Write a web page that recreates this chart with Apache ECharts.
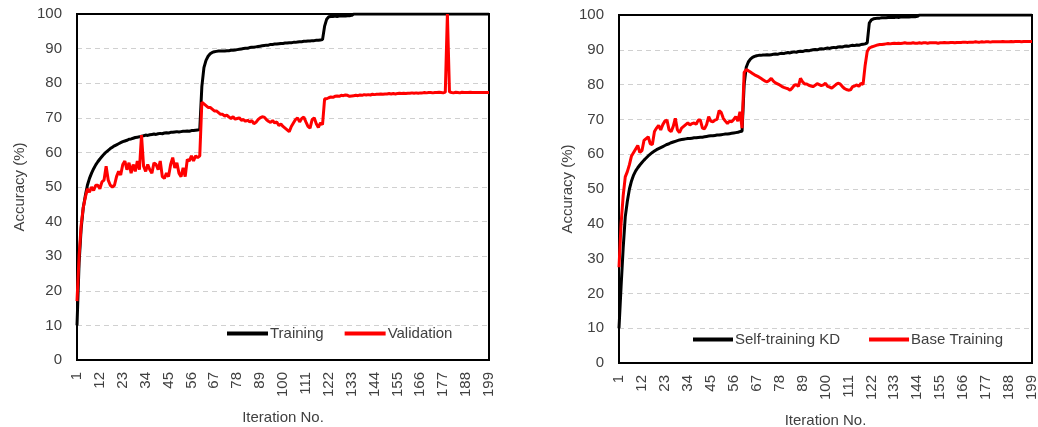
<!DOCTYPE html>
<html>
<head>
<meta charset="utf-8">
<script src="https://cdn.jsdelivr.net/npm/echarts@6/dist/echarts.min.js"></script>
<style>
  html, body { margin: 0; padding: 0; background: #fff; }
  #chart { width: 1038px; height: 427px; }
</style>
</head>
<body>
<div id="chart"></div>
<script>
// iteration numbers 1..199
const iterations = [];
for (let i = 1; i <= 199; i++) iterations.push(String(i));

// left panel: Training / Validation accuracy (%)
const leftTraining = [
  10, 28, 38, 44, 47.5, 50.5, 52.5, 54, 55.3, 56.4,
  57.3, 58.1, 58.8, 59.5, 60.1, 60.6, 61.1, 61.5, 61.9, 62.2,
  62.5, 62.8, 63.1, 63.3, 63.5, 63.8, 63.9, 64.1, 64.3, 64.4,
  64.5, 64.7, 64.8, 65.0, 64.9, 65.1, 65.2, 65.3, 65.2, 65.4,
  65.5, 65.4, 65.6, 65.7, 65.6, 65.8, 65.8, 65.9, 66.0, 65.9,
  66.0, 66.1, 66.1, 66.2, 66.1, 66.3, 66.3, 66.4, 66.5, 66.6,
  79, 84.5, 86.6, 87.8, 88.5, 88.9, 89.1, 89.2, 89.3, 89.3,
  89.3, 89.3, 89.4, 89.4, 89.5, 89.5, 89.6, 89.7, 89.8, 89.9,
  90.0, 90.1, 90.1, 90.3, 90.4, 90.4, 90.5, 90.6, 90.7, 90.8,
  90.9, 91.0, 91.0, 91.2, 91.2, 91.3, 91.3, 91.4, 91.5, 91.5,
  91.6, 91.6, 91.7, 91.7, 91.8, 91.8, 91.9, 92.0, 92.0, 92.1,
  92.1, 92.2, 92.2, 92.3, 92.3, 92.4, 92.4, 92.5, 92.6, 96.5,
  98.5, 99.2, 99.3, 99.3, 99.4, 99.3, 99.4, 99.4, 99.5, 99.4,
  99.5, 99.5, 99.6, 100, 100, 100, 100, 100, 100, 100,
  100, 100, 100, 100, 100, 100, 100, 100, 100, 100,
  100, 100, 100, 100, 100, 100, 100, 100, 100, 100,
  100, 100, 100, 100, 100, 100, 100, 100, 100, 100,
  100, 100, 100, 100, 100, 100, 100, 100, 100, 100,
  100, 100, 100, 100, 100, 100, 100, 100, 100, 100,
  100, 100, 100, 100, 100, 100, 100, 100, 100
];
const leftValidation = [
  17, 30, 39, 44, 47, 49.5, 48.5, 50, 49, 50.5,
  50.5, 49.5, 51.5, 52, 56, 52, 50.5, 50, 50.5, 53,
  54.5, 53.5, 56.5, 57.5, 55, 57, 54, 56.5, 54.5, 57.5,
  55, 65, 56, 54.5, 56.5, 55, 54, 57, 56.5, 55,
  57.5, 53, 52.5, 54, 53, 56.5, 58.5, 55.5, 57, 54,
  53, 55.5, 53, 58, 57.5, 59, 57.5, 59, 58.5, 59,
  74.5, 74, 73.5, 73, 73, 72.5, 72, 72, 71.5, 71,
  71, 70.5, 70.8, 70.2, 69.8, 70.3, 69.6, 69.8, 70, 69.3,
  69.5, 69, 69.3, 68.8, 69.2, 68.3, 68.7, 69.5, 70, 70.3,
  70.2, 69.5, 69, 68.7, 69.2, 68.5, 68.8, 67.8, 68.2, 67.5,
  67, 66.5, 66, 67.5, 68.5, 69.5, 70, 68.8, 69.8, 70.2,
  68.8, 67.5, 67, 69.5, 70, 68.3, 67.2, 68.5, 68, 75.5,
  75.5, 75.8, 76, 75.9, 76.2, 76.3, 76.2, 76.5, 76.4, 76.6,
  76.5, 76.2, 76.3, 76.4, 76.5, 76.4, 76.6, 76.5, 76.7, 76.6,
  76.7, 76.6, 76.8, 76.7, 76.8, 76.8, 76.9, 76.8, 76.9, 76.9,
  77.0, 76.9, 77.0, 76.9, 77.0, 77.1, 77.0, 77.1, 77.0, 77.1,
  77.1, 77.2, 77.1, 77.2, 77.1, 77.2, 77.2, 77.3, 77.2, 77.3,
  77.3, 77.2, 77.3, 77.3, 77.4, 77.3, 77.2, 77.4, 100, 77.5,
  77.3, 77.2, 77.4, 77.3, 77.2, 77.4, 77.3, 77.3, 77.3, 77.4,
  77.3, 77.3, 77.3, 77.3, 77.3, 77.3, 77.3, 77.3, 77.3
];

// right panel: Self-training KD / Base Training accuracy (%)
const rightKD = [
  10, 22, 33, 42, 46.5, 50, 52.3, 54, 55.2, 56.1,
  56.9, 57.6, 58.3, 58.9, 59.5, 60.0, 60.5, 60.9, 61.3, 61.6,
  61.9, 62.2, 62.5, 62.8, 63.0, 63.3, 63.5, 63.7, 63.9, 64.1,
  64.2, 64.3, 64.4, 64.5, 64.5, 64.6, 64.7, 64.7, 64.8, 64.9,
  64.9, 65.0, 65.1, 65.2, 65.3, 65.3, 65.4, 65.5, 65.5, 65.6,
  65.7, 65.8, 65.8, 65.9, 66.0, 66.1, 66.2, 66.3, 66.5, 66.6,
  80, 85, 86.5, 87.3, 87.8, 88.1, 88.3, 88.4, 88.4, 88.5,
  88.5, 88.6, 88.5, 88.6, 88.7, 88.8, 88.7, 88.9, 89.0, 88.9,
  89.1, 89.2, 89.1, 89.3, 89.4, 89.3, 89.5, 89.6, 89.5, 89.7,
  89.8, 89.7, 89.9, 90.0, 90.1, 90.0, 90.2, 90.3, 90.2, 90.4,
  90.5, 90.4, 90.6, 90.7, 90.6, 90.8, 90.9, 90.8, 91.0, 91.1,
  91.0, 91.2, 91.3, 91.2, 91.4, 91.3, 91.5, 91.6, 91.7, 92.0,
  97.7, 98.6, 98.9, 99.0, 99.1, 99.1, 99.2, 99.2, 99.2, 99.3,
  99.3, 99.3, 99.3, 99.4, 99.3, 99.4, 99.4, 99.4, 99.5, 99.4,
  99.5, 99.5, 99.5, 99.6, 100, 100, 100, 100, 100, 100,
  100, 100, 100, 100, 100, 100, 100, 100, 100, 100,
  100, 100, 100, 100, 100, 100, 100, 100, 100, 100,
  100, 100, 100, 100, 100, 100, 100, 100, 100, 100,
  100, 100, 100, 100, 100, 100, 100, 100, 100, 100,
  100, 100, 100, 100, 100, 100, 100, 100, 100
];
const rightBase = [
  27.5, 40, 48, 53.5, 55, 57, 59.5, 60.5, 61.5, 62.5,
  60.5, 61, 64, 64.5, 65, 63, 62.8, 66.5, 67.5, 68.3,
  67, 68.5, 69.5, 69.8, 67, 66.5, 68, 70.3, 67, 66.2,
  67.5, 68, 68.5, 69, 68.4, 68.8, 69, 68.6, 69.8, 69.8,
  67.5, 67.3, 68.5, 70.8, 69.5, 69.3, 69.8, 70, 72.5, 72,
  70.3, 69.5, 68.8, 69.5, 69.3, 70, 70.8, 69.5, 72.2, 67.5,
  83.5, 84.3, 84, 83.6, 83.2, 82.8, 82.5, 82.2, 81.8, 81.4,
  81, 80.8, 81.2, 81.8, 81, 80.5, 80.2, 79.9, 79.5, 79.2,
  79, 78.8, 78.4, 79, 79.8, 80, 79.5, 81.8, 80.8, 80.2,
  80.2, 79.8, 79.6, 79.4, 79.8, 80.3, 80, 79.7, 79.9, 80.4,
  79.5, 79.3, 79, 79.5, 80, 80.4, 80.2, 79.5, 78.9, 78.6,
  78.4, 78.5, 79.4, 79.6, 79.9, 79.5, 80.4, 80, 85.5, 89.5,
  90.5, 90.8, 91, 91.2, 91.4, 91.5, 91.5, 91.6, 91.7, 91.8,
  91.7, 91.8, 91.9, 91.8, 91.9, 91.8, 91.9, 92.0, 91.9, 91.9,
  91.9, 92.0, 91.9, 91.9, 92.0, 91.9, 92.0, 92.0, 91.9, 92.0,
  92.0, 92.0, 92.0, 91.9, 92.0, 92.0, 92.1, 92.0, 92.0, 92.1,
  92.1, 92.0, 92.1, 92.1, 92.1, 92.2, 92.2, 92.1, 92.2, 92.2,
  92.2, 92.3, 92.2, 92.2, 92.3, 92.2, 92.3, 92.3, 92.2, 92.3,
  92.3, 92.3, 92.3, 92.3, 92.4, 92.3, 92.3, 92.3, 92.4, 92.3,
  92.4, 92.4, 92.4, 92.3, 92.4, 92.4, 92.4, 92.4, 92.4
];

const FONT = 'Liberation Sans';
const TXT = '#404040';

function xAxisFor(gridIndex) {
  return {
    gridIndex: gridIndex,
    type: 'category',
    data: iterations,
    boundaryGap: false,
    name: 'Iteration No.',
    nameLocation: 'middle',
    nameGap: 50,
    nameTextStyle: { fontFamily: FONT, fontSize: 15, color: TXT },
    axisLine: { lineStyle: { color: '#000', width: 2 } },
    axisTick: { show: false },
    axisLabel: { interval: 10, rotate: 90, margin: 12, fontFamily: FONT, fontSize: 15, color: TXT },
    splitLine: { show: false }
  };
}

function yAxisFor(gridIndex, gap) {
  return {
    gridIndex: gridIndex,
    type: 'value',
    min: 0,
    max: 100,
    interval: 10,
    name: 'Accuracy (%)',
    nameLocation: 'middle',
    nameGap: gap,
    nameTextStyle: { fontFamily: FONT, fontSize: 15, color: TXT },
    axisLine: { show: true, lineStyle: { color: '#000', width: 2 } },
    axisTick: { show: false },
    axisLabel: { margin: 15, fontFamily: FONT, fontSize: 15, color: TXT },
    splitLine: { showMinLine: false, showMaxLine: false, lineStyle: { color: '#d0d0d0', width: 1, type: [5, 4] } }
  };
}

function lineSeries(name, data, color, axisIdx) {
  return {
    name: name,
    type: 'line',
    xAxisIndex: axisIdx,
    yAxisIndex: axisIdx,
    data: data,
    showSymbol: false,
    symbol: 'none',
    lineStyle: { color: color, width: 3 },
    itemStyle: { color: color },
    animation: false
  };
}

const chart = echarts.init(document.getElementById('chart'), null, { renderer: 'canvas' });
chart.setOption({
  backgroundColor: '#fff',
  animation: false,
  grid: [
    { left: 77, right: 549, top: 14, bottom: 67, outerBoundsMode: 'none', containLabel: false,
      show: true, borderColor: '#000', borderWidth: 2 },
    { left: 619, right: 6, top: 15, bottom: 64, outerBoundsMode: 'none', containLabel: false,
      show: true, borderColor: '#000', borderWidth: 2 }
  ],
  xAxis: [xAxisFor(0), xAxisFor(1)],
  yAxis: [yAxisFor(0, 50), yAxisFor(1, 42)],
  legend: [
    {
      data: ['Training', 'Validation'],
      left: 227, top: 326, padding: 0,
      icon: 'rect', itemWidth: 41, itemHeight: 4, itemGap: 21,
      textStyle: { fontFamily: FONT, fontSize: 15, color: TXT, padding: [0, 0, 0, -3] }
    },
    {
      data: ['Self-training KD', 'Base Training'],
      left: 693, top: 332, padding: 0,
      icon: 'rect', itemWidth: 40, itemHeight: 4, itemGap: 29,
      textStyle: { fontFamily: FONT, fontSize: 15, color: TXT, padding: [0, 0, 0, -3] }
    }
  ],
  series: [
    lineSeries('Training', leftTraining, '#000000', 0),
    lineSeries('Validation', leftValidation, '#ff0000', 0),
    lineSeries('Self-training KD', rightKD, '#000000', 1),
    lineSeries('Base Training', rightBase, '#ff0000', 1)
  ]
});
</script>
</body>
</html>
